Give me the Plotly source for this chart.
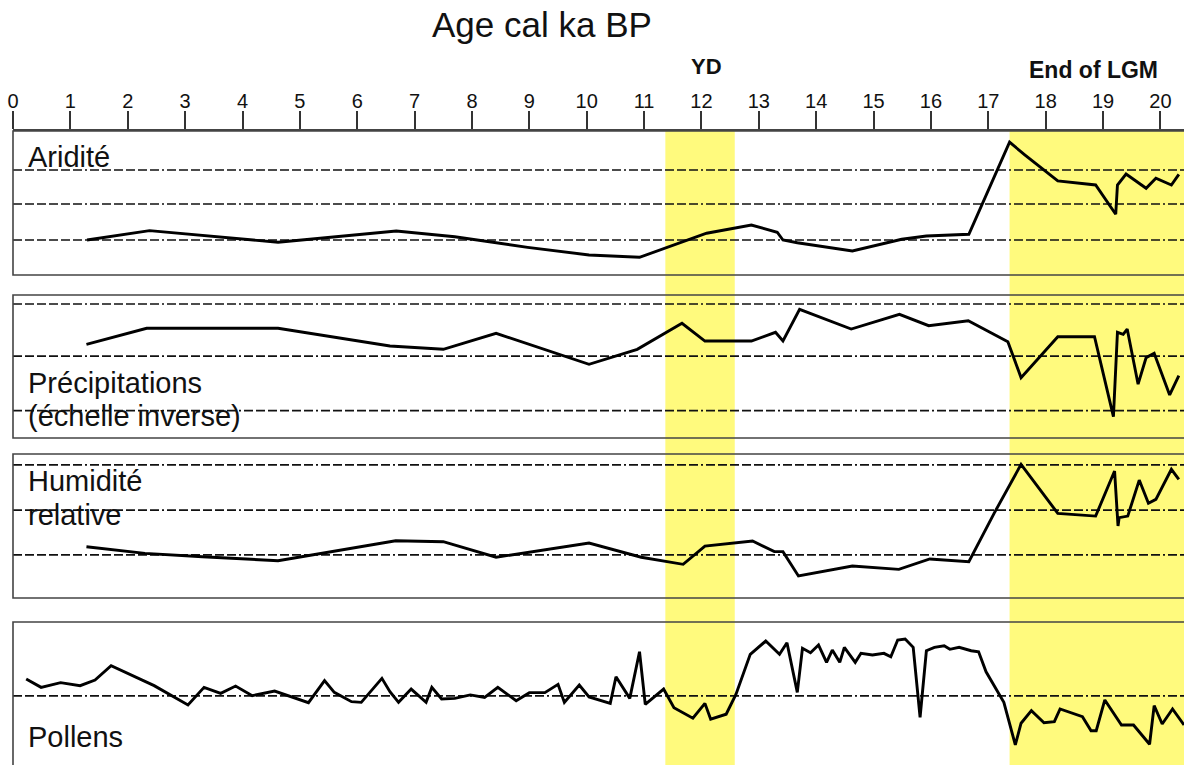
import plotly.graph_objects as go

# ---------------- data ----------------
tick_vals = list(range(0, 21))
tick_text = [str(v) for v in tick_vals]

yd_band = [11.37, 12.58]
lgm_band = [17.37, 20.5]

arid_age = [1.29, 2.38, 4.62, 6.68, 7.70, 8.97, 10.04, 10.92, 12.09, 12.87, 13.32, 13.42,
            13.67, 14.63, 15.49, 15.92, 16.66, 17.37, 17.64, 18.21, 18.87, 19.22, 19.25,
            19.40, 19.75, 19.92, 20.19, 20.32]
arid_val = [24.3, 30.8, 22.7, 30.6, 26.6, 19.2, 13.9, 12.3, 29.0, 34.7, 29.7, 24.3,
            22.4, 16.7, 24.8, 27.1, 28.3, 92.2, 83.3, 65.3, 62.5, 42.2, 62.5,
            70.1, 60.2, 67.2, 62.5, 69.9]
arid_ref = [72.9, 49.3, 24.3]

prec_age = [1.28, 2.33, 4.62, 6.57, 7.50, 8.42, 10.04, 10.88, 11.66, 12.06, 12.87, 13.29,
            13.42, 13.71, 14.61, 15.45, 15.96, 16.65, 17.34, 17.57, 18.21, 18.85, 19.18,
            19.25, 19.35, 19.42, 19.61, 19.75, 19.89, 20.16, 20.32]
prec_val = [65.5, 76.7, 76.7, 64.3, 62.0, 73.2, 51.5, 62.0, 80.2, 67.8, 67.8, 73.9,
            67.8, 90.0, 76.2, 86.5, 78.5, 82.0, 67.3, 42.2, 70.8, 70.8, 14.9,
            73.9, 72.5, 76.2, 37.6, 56.2, 59.2, 30.1, 43.6]
prec_ref = [93.7, 57.3, 19.1]

hum_age = [1.28, 2.30, 3.30, 4.62, 6.67, 7.50, 8.42, 10.04, 10.95, 11.68, 12.06, 12.89,
           13.27, 13.42, 13.69, 14.63, 15.44, 15.98, 16.66, 17.10, 17.57, 17.84, 18.21,
           18.87, 19.20, 19.26, 19.28, 19.43, 19.63, 19.79, 19.92, 20.19, 20.32]
hum_val = [35.6, 31.0, 28.7, 25.9, 39.8, 39.1, 28.3, 38.2, 28.3, 23.4, 36.1, 39.6,
           32.2, 32.2, 15.3, 22.2, 19.9, 27.1, 25.2, 58.8, 92.8, 78.5, 58.8,
           56.9, 88.2, 50.0, 55.8, 56.9, 81.9, 65.8, 68.5, 89.4, 82.4]
hum_ref = [92.4, 61.1, 29.9]

pol_age = [0.23, 0.49, 0.83, 1.17, 1.43, 1.71, 2.46, 3.05, 3.33, 3.62, 3.88, 4.17, 4.56,
           5.15, 5.43, 5.60, 5.90, 6.07, 6.43, 6.57, 6.72, 6.94, 7.20, 7.30, 7.47, 7.70,
           7.97, 8.22, 8.45, 8.77, 9.00, 9.27, 9.50, 9.61, 9.87, 10.04, 10.41, 10.51,
           10.75, 10.92, 11.02, 11.34, 11.52, 11.85, 12.06, 12.16, 12.43, 12.60, 12.85,
           13.12, 13.36, 13.49, 13.67, 13.76, 13.90, 14.04, 14.18, 14.28, 14.41, 14.49,
           14.68, 14.78, 14.98, 15.18, 15.30, 15.42, 15.55, 15.69, 15.81, 15.92, 16.06,
           16.23, 16.33, 16.49, 16.70, 16.83, 16.96, 17.27, 17.47, 17.57, 17.75, 17.97,
           18.15, 18.25, 18.64, 18.79, 18.88, 19.03, 19.32, 19.53, 19.81, 19.89, 20.03,
           20.21, 20.41]
pol_val = [60.1, 54.3, 57.6, 55.5, 59.4, 69.4, 55.5, 42.0, 54.3, 50.1, 55.2, 48.5, 51.7,
           43.6, 59.0, 50.8, 44.3, 43.8, 60.6, 51.3, 43.8, 53.1, 43.8, 54.3, 46.2, 46.6,
           49.0, 47.3, 54.3, 45.0, 50.6, 50.6, 56.4, 43.8, 55.9, 47.6, 43.1, 61.7,
           46.6, 79.2, 42.4, 53.1, 40.1, 32.7, 43.1, 32.0, 35.5, 49.4, 77.4,
           86.7, 77.4, 85.5, 50.8, 81.6, 78.5, 83.9, 71.8, 80.4, 71.8, 82.3,
           71.8, 78.1, 76.9, 78.1, 75.7, 87.4, 88.1, 82.3, 33.4, 79.9, 82.3,
           83.4, 80.9, 82.3, 79.9, 79.2, 65.2, 43.8, 14.0, 29.2, 38.0, 29.6,
           30.3, 39.2, 33.8, 24.0, 24.0, 45.5, 28.0, 28.0, 14.5, 41.5, 28.7,
           39.2, 28.0]
pol_ref = [48.3]

panels = [
    dict(age=arid_age, val=arid_val, ref=arid_ref, dom=[0.6405, 0.8288]),
    dict(age=prec_age, val=prec_val, ref=prec_ref, dom=[0.4275, 0.6144]),
    dict(age=hum_age, val=hum_val, ref=hum_ref, dom=[0.2183, 0.4065]),
    dict(age=pol_age, val=pol_val, ref=pol_ref, dom=[0.0, 0.1869]),
]

# ---------------- figure ----------------
W, H = 1184, 765
FONT = "Liberation Sans, Arial, sans-serif"
x_left = 13 / W
x_range = [0, 20.41]
dash = "9px,3px,9px,3px,9px,3px,9px,3px,9px,3px,9px,3px,2px,3px"

fig = go.Figure()
shapes = []

# yellow bands (behind everything)
for b in (yd_band, lgm_band):
    shapes.append(dict(type="rect", xref="x", yref="paper", x0=b[0], x1=b[1],
                       y0=0, y1=panels[0]["dom"][1], fillcolor="#FFFA7D",
                       line=dict(width=0), layer="below"))

layout_axes = {}
for i, p in enumerate(panels):
    n = "" if i == 0 else str(i + 1)
    xa, ya = "x" + n, "y" + n
    fig.add_trace(go.Scatter(x=p["age"], y=p["val"], mode="lines", xaxis=xa, yaxis=ya,
                             line=dict(color="black", width=2.9), showlegend=False,
                             hoverinfo="skip"))
    xax = dict(domain=[x_left, 1], range=x_range, showgrid=False, zeroline=False,
               anchor=ya, automargin=False, fixedrange=True)
    if i == 0:
        xax.update(side="top", tickmode="array", tickvals=tick_vals, ticktext=tick_text,
                   ticks="outside", ticklen=18, tickwidth=1.5, tickcolor="#333",
                   tickfont=dict(family=FONT, size=20, color="#111"),
                   ticklabelstandoff=-5,
                   showline=True, linecolor="#444", linewidth=1.5)
    else:
        xax.update(visible=False, matches="x")
    layout_axes["xaxis" + n] = xax
    layout_axes["yaxis" + n] = dict(domain=p["dom"], range=[0, 100], visible=False,
                                    anchor=xa, fixedrange=True)
    # reference dashed levels
    for r in p["ref"]:
        shapes.append(dict(type="line", xref=xa + " domain", yref=ya, x0=0, x1=1,
                           y0=r, y1=r, line=dict(color="#111", width=1.7, dash=dash),
                           layer="below"))
    # panel frame
    y0 = -0.05 if i == 3 else 0
    shapes.append(dict(type="rect", xref=xa + " domain", yref=ya + " domain",
                       x0=0, x1=1.02, y0=y0, y1=1,
                       line=dict(color="#444", width=1.6), fillcolor="rgba(0,0,0,0)",
                       layer="above"))

def py(px):
    return 1 - px / H

annotations = [
    dict(text="Age cal ka BP", x=542 / W, y=py(25), size=35, anchor="center"),
    dict(text="<b>YD</b>", x=706 / W, y=py(66), size=22, anchor="center"),
    dict(text="<b>End of LGM</b>", x=1093 / W, y=py(70), size=23, anchor="center"),
    dict(text="Aridité", x=26 / W, y=py(157), size=29, anchor="left"),
    dict(text="Précipitations", x=26 / W, y=py(383), size=29, anchor="left"),
    dict(text="(échelle inverse)", x=26 / W, y=py(416), size=29, anchor="left"),
    dict(text="Humidité", x=26 / W, y=py(481), size=29, anchor="left"),
    dict(text="relative", x=26 / W, y=py(515), size=29, anchor="left"),
    dict(text="Pollens", x=26 / W, y=py(737), size=29, anchor="left"),
]
ann = []
for a in annotations:
    ann.append(dict(text=a["text"], x=a["x"], y=a["y"], xref="paper", yref="paper",
                    xanchor=a["anchor"], yanchor="middle", showarrow=False,
                    font=dict(family=FONT, size=a["size"], color="#111")))

fig.update_layout(width=W, height=H, margin=dict(l=0, r=0, t=0, b=0),
                  paper_bgcolor="white", plot_bgcolor="rgba(0,0,0,0)",
                  shapes=shapes, annotations=ann, **layout_axes)

fig.write_html("out.html", config={"displayModeBar": False})
